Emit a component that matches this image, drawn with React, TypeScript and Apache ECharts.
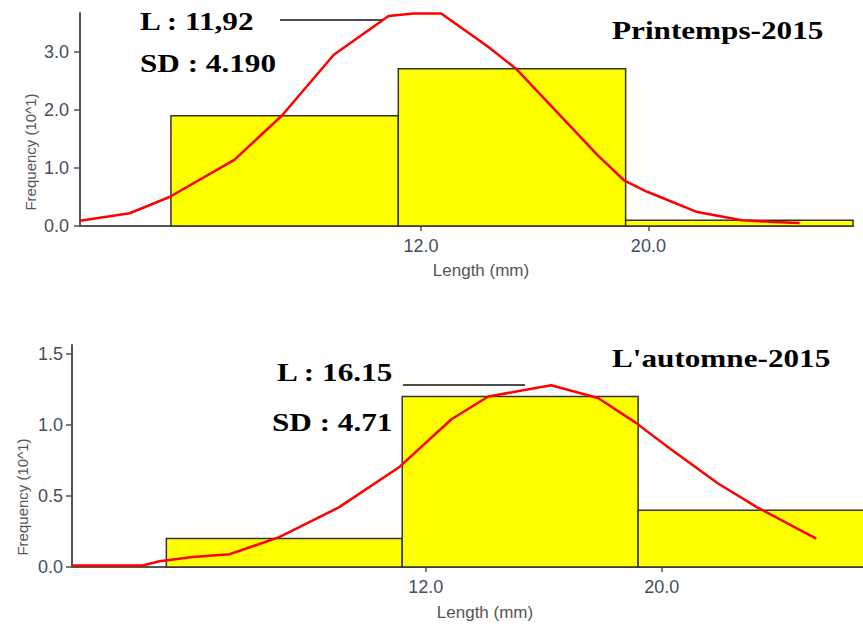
import React, { useEffect, useRef } from "react";
import * as echarts from "echarts";

// Histogram bins: [start, end, frequency (10^1)]
const springBins: number[][] = [
  [3.2, 11.2, 1.9],
  [11.2, 19.2, 2.71],
  [19.2, 27.2, 0.1],
];
const autumnBins: number[][] = [
  [3.2, 11.2, 0.2],
  [11.2, 19.2, 1.2],
  [19.2, 27.2, 0.4],
];
// Fitted normal curves
const springCurve: number[][] = [
  [0, 0.09], [1.75, 0.22], [3.15, 0.5], [5.43, 1.14], [7.1, 1.9], [8.93, 2.95],
  [10.86, 3.62], [11.73, 3.66], [12.71, 3.66], [14.36, 3.09], [15.34, 2.71],
  [16.81, 1.95], [18.21, 1.22], [19.16, 0.78], [19.96, 0.59], [21.72, 0.24],
  [23.29, 0.1], [24.41, 0.07], [25.32, 0.05],
];
const autumnCurve: number[][] = [
  [0, 0.01], [2.4, 0.01], [2.97, 0.04], [4.09, 0.07], [5.34, 0.09], [7.03, 0.21],
  [9.05, 0.42], [11.08, 0.7], [12.87, 1.04], [14.12, 1.2], [16.25, 1.28],
  [17.84, 1.19], [19.09, 1.02], [20.3, 0.83], [21.9, 0.59], [23.24, 0.42],
  [25.24, 0.2],
];
const xTicks = [12, 20];
const springYTicks = [0, 1, 2, 3];
const autumnYTicks = [0, 0.5, 1, 1.5];
const springLabels = ["L : 11,92", "SD : 4.190", "Printemps-2015"];
const autumnLabels = ["L : 16.15", "SD : 4.71", "L'automne-2015"];
const xName = "Length (mm)";
const yName = "Frequency (10^1)";

const labelFont = "'Liberation Sans', Arial, sans-serif";
const serif = "'Liberation Serif', 'Times New Roman', serif";

function renderBar(params: any, api: any) {
  const x0 = api.value(0);
  const x1 = api.value(1);
  const h = api.value(2);
  const p0 = api.coord([x0, h]);
  const p1 = api.coord([x1, 0]);
  return {
    type: "rect",
    shape: { x: p0[0], y: p0[1], width: p1[0] - p0[0], height: p1[1] - p0[1] },
    style: { fill: "#ffff00", stroke: "#333333", lineWidth: 1.5 },
  };
}

function xAxisCfg(gridIndex: number) {
  return {
    type: "value",
    gridIndex,
    min: 0,
    max: 27.2,
    axisLine: { show: true, onZero: false, lineStyle: { color: "#555", width: 2 } },
    axisTick: { show: true, customValues: xTicks, length: 5, lineStyle: { color: "#555", width: 1.5 } },
    axisLabel: {
      customValues: xTicks,
      formatter: (v: number) => v.toFixed(1),
      color: "#454d5c",
      fontSize: 18,
      fontFamily: labelFont,
      margin: 11,
    },
    splitLine: { show: false },
  };
}

function yAxisCfg(gridIndex: number, max: number, ticks: number[], margin: number) {
  return {
    type: "value",
    gridIndex,
    min: 0,
    max,
    axisLine: { show: true, lineStyle: { color: "#555", width: 2 } },
    axisTick: { show: true, customValues: ticks, length: 6, lineStyle: { color: "#555", width: 1.5 } },
    axisLabel: {
      customValues: ticks,
      formatter: (v: number) => v.toFixed(1),
      color: "#454d5c",
      fontSize: 18,
      fontFamily: labelFont,
      margin,
    },
    splitLine: { show: false },
  };
}

function bigText(text: string, x: number, y: number) {
  return {
    type: "text",
    x,
    y,
    scaleX: 1.2,
    style: {
      text,
      font: `bold 26px ${serif}`,
      fill: "#000",
      verticalAlign: "middle",
    },
  };
}

function smallText(text: string, x: number, y: number, rotate = 0, size = 15) {
  return {
    type: "text",
    x,
    y,
    rotation: rotate,
    style: {
      text,
      font: `${size}px ${labelFont}`,
      fill: "#555",
      align: "center",
      verticalAlign: "middle",
    },
  };
}

export default function App() {
  const ref = useRef<HTMLDivElement>(null);
  useEffect(() => {
    if (!ref.current) return;
    const chart = echarts.init(ref.current, undefined, { renderer: "svg" });
    chart.setOption({
      animation: false,
      backgroundColor: "#ffffff",
      grid: [
        { left: 80, top: 13, width: 773, bottom: 401, outerBoundsMode: "none", containLabel: false },
        { left: 72, top: 345, width: 802, bottom: 60, outerBoundsMode: "none", containLabel: false },
      ],
      xAxis: [xAxisCfg(0), xAxisCfg(1)],
      yAxis: [yAxisCfg(0, 3.67, springYTicks, 11), yAxisCfg(1, 1.563, autumnYTicks, 9)],
      series: [
        {
          type: "custom",
          xAxisIndex: 0,
          yAxisIndex: 0,
          renderItem: renderBar,
          encode: { x: [0, 1], y: 2 },
          data: springBins,
          z: 2,
        },
        {
          type: "custom",
          xAxisIndex: 1,
          yAxisIndex: 1,
          renderItem: renderBar,
          encode: { x: [0, 1], y: 2 },
          data: autumnBins,
          z: 2,
        },
        {
          type: "line",
          xAxisIndex: 0,
          yAxisIndex: 0,
          data: springCurve,
          showSymbol: false,
          smooth: false,
          lineStyle: { color: "#ff0000", width: 2.5 },
          z: 5,
        },
        {
          type: "line",
          xAxisIndex: 1,
          yAxisIndex: 1,
          data: autumnCurve,
          showSymbol: false,
          smooth: false,
          lineStyle: { color: "#ff0000", width: 2.5 },
          z: 5,
        },
      ],
      graphic: [
        bigText(springLabels[0], 140, 21),
        bigText(springLabels[1], 140, 63),
        bigText(springLabels[2], 612, 30),
        { type: "line", shape: { x1: 280, y1: 20, x2: 382, y2: 20 }, style: { stroke: "#111", lineWidth: 1.5 } },
        bigText(autumnLabels[0], 277, 372),
        bigText(autumnLabels[1], 272, 422),
        bigText(autumnLabels[2], 612, 358),
        { type: "line", shape: { x1: 403, y1: 385, x2: 525, y2: 385 }, style: { stroke: "#111", lineWidth: 1.5 } },
        smallText(xName, 481, 270, 0, 17),
        smallText(xName, 485, 612, 0, 17),
        smallText(yName, 30, 152, Math.PI / 2, 15),
        smallText(yName, 22, 497, Math.PI / 2, 15),
      ],
    });
    return () => chart.dispose();
  }, []);
  return (
    <div
      ref={ref}
      style={{ position: "fixed", left: 0, top: 0, width: 863, height: 627, background: "#fff" }}
    />
  );
}
